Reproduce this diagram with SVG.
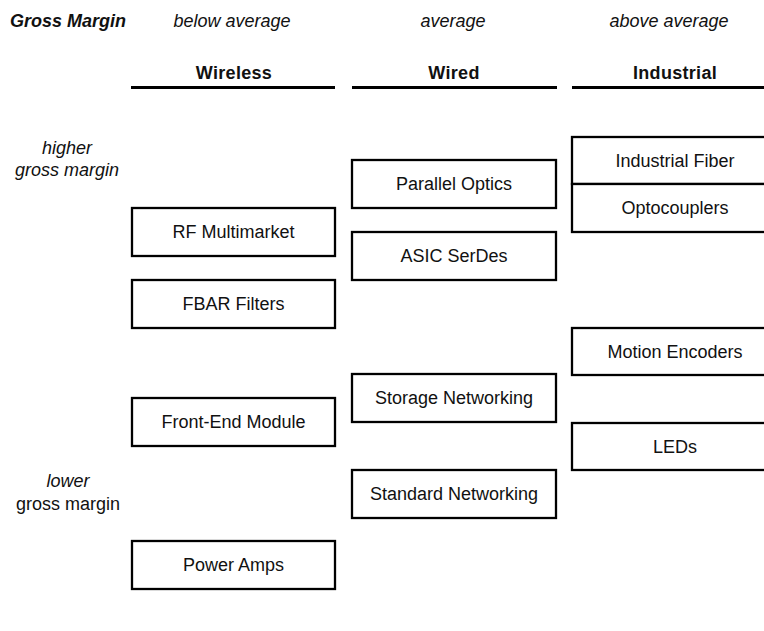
<svg xmlns="http://www.w3.org/2000/svg" width="764" height="631" viewBox="0 0 764 631">
<style>
text{font-family:"Liberation Sans",Arial,sans-serif;font-size:18px;fill:#111;}
.c{text-anchor:middle;}
.i{font-style:italic;}
.b{font-weight:bold;}
.box{fill:#fff;stroke:#000;stroke-width:2.3;}
.hl{stroke:#000;stroke-width:3;}
</style>
<rect width="764" height="631" fill="#fff"/>
<g id="headers">
<text x="10" y="27" class="i b" font-size="17.5">Gross Margin</text>
<text x="232" y="27" class="c i" font-size="17.5">below average</text>
<text x="453" y="27" class="c i" font-size="17.5">average</text>
<text x="669" y="27" class="c i" font-size="17.5">above average</text>
<text x="234" y="79" class="c b" letter-spacing="0.3">Wireless</text>
<text x="454" y="79" class="c b" letter-spacing="0.3">Wired</text>
<text x="675" y="79" class="c b" letter-spacing="0.3">Industrial</text>
<line class="hl" x1="131" y1="87.5" x2="335" y2="87.5"/>
<line class="hl" x1="352" y1="87.5" x2="557" y2="87.5"/>
<line class="hl" x1="572" y1="87.5" x2="780" y2="87.5"/>
</g>
<g id="axis">
<text x="67" y="154" class="c i">higher</text>
<text x="67" y="176" class="c i">gross margin</text>
<text x="68" y="487" class="c i">lower</text>
<text x="68" y="510" class="c">gross margin</text>
</g>
<g id="rf"><rect class="box" x="132" y="208" width="203" height="48"/><text x="233.5" y="238" class="c">RF Multimarket</text></g>
<g id="fbar"><rect class="box" x="132" y="280" width="203" height="48"/><text x="233.5" y="310" class="c">FBAR Filters</text></g>
<g id="fem"><rect class="box" x="132" y="398" width="203" height="48"/><text x="233.5" y="428" class="c">Front-End Module</text></g>
<g id="pa"><rect class="box" x="132" y="541" width="203" height="48"/><text x="233.5" y="571" class="c">Power Amps</text></g>
<g id="po"><rect class="box" x="352" y="160" width="204" height="48"/><text x="454" y="190" class="c">Parallel Optics</text></g>
<g id="asic"><rect class="box" x="352" y="232" width="204" height="48"/><text x="454" y="262" class="c">ASIC SerDes</text></g>
<g id="sn"><rect class="box" x="352" y="374" width="204" height="48"/><text x="454" y="404" class="c">Storage Networking</text></g>
<g id="stdn"><rect class="box" x="352" y="470" width="204" height="48"/><text x="454" y="500" class="c">Standard Networking</text></g>
<g id="if"><rect class="box" x="572" y="137" width="210" height="47"/><text x="675" y="166.5" class="c">Industrial Fiber</text></g>
<g id="oc"><rect class="box" x="572" y="184" width="210" height="48"/><text x="675" y="214" class="c">Optocouplers</text></g>
<g id="me"><rect class="box" x="572" y="328" width="210" height="47"/><text x="675" y="357.5" class="c">Motion Encoders</text></g>
<g id="led"><rect class="box" x="572" y="423" width="210" height="47"/><text x="675" y="452.5" class="c">LEDs</text></g>
<g id="connectors"></g>
</svg>
